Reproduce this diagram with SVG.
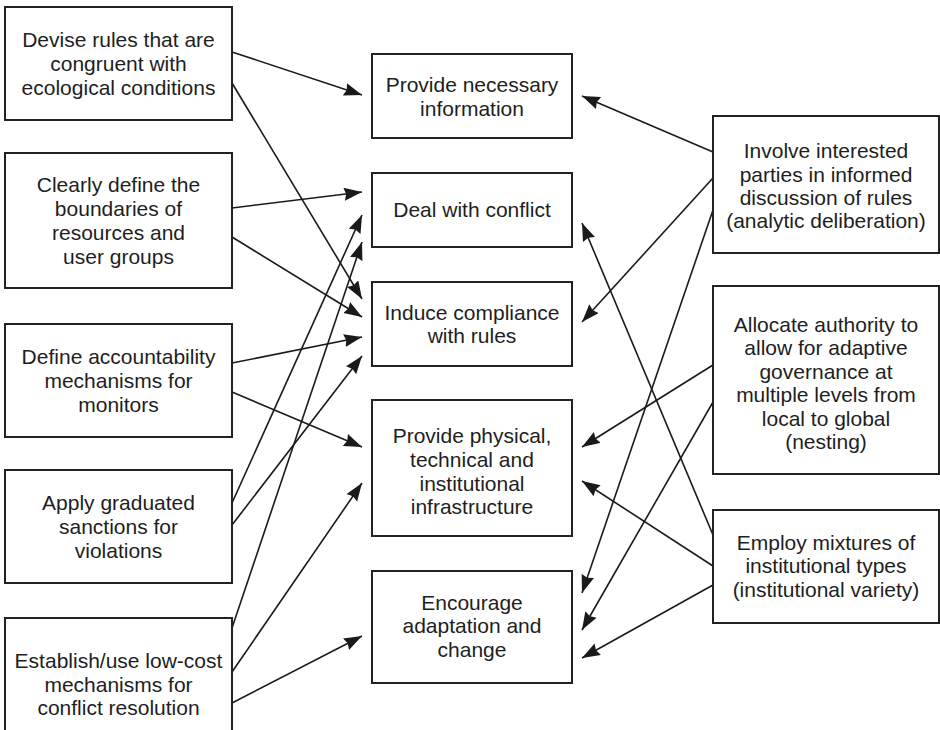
<svg xmlns="http://www.w3.org/2000/svg" width="940" height="730" viewBox="0 0 940 730">
<defs>
<marker id="ah" markerUnits="userSpaceOnUse" markerWidth="19" markerHeight="14" refX="18" refY="6.5" orient="auto">
<path d="M0,0 L18,6.5 L0,13 L2,6.5 Z" fill="#1a1a1a"/>
</marker>
<style>
.box{fill:#fff;stroke:#222;stroke-width:2}
.t{font-family:"Liberation Sans",Arial,sans-serif;font-size:21px;fill:#1e1e1e;text-anchor:middle}
.c{stroke:#1a1a1a;stroke-width:1.6;fill:none;marker-end:url(#ah)}
</style>
</defs>
<rect width="940" height="730" fill="#fff"/>
<g id="connectors">
<line class="c" x1="232" y1="52" x2="362" y2="95"/>
<line class="c" x1="232" y1="83" x2="362" y2="299"/>
<line class="c" x1="232" y1="208" x2="362" y2="192"/>
<line class="c" x1="232" y1="237" x2="362" y2="317"/>
<line class="c" x1="232" y1="363" x2="362" y2="337"/>
<line class="c" x1="232" y1="392" x2="362" y2="447"/>
<line class="c" x1="232" y1="503" x2="362" y2="215"/>
<line class="c" x1="232" y1="525" x2="362" y2="356"/>
<line class="c" x1="232" y1="628" x2="362" y2="242"/>
<line class="c" x1="232" y1="672" x2="362" y2="483"/>
<line class="c" x1="232" y1="703" x2="362" y2="636"/>
<line class="c" x1="713" y1="152" x2="582" y2="96"/>
<line class="c" x1="713" y1="178" x2="582" y2="322"/>
<line class="c" x1="713" y1="210" x2="582" y2="593"/>
<line class="c" x1="713" y1="365" x2="582" y2="447"/>
<line class="c" x1="713" y1="402" x2="582" y2="630"/>
<line class="c" x1="713" y1="535" x2="582" y2="223"/>
<line class="c" x1="713" y1="566" x2="582" y2="481"/>
<line class="c" x1="713" y1="585" x2="582" y2="658"/>
</g>
<g id="l1"><rect class="box" x="5" y="7" width="227" height="113"/>
<text class="t" x="118.5" y="47">Devise rules that are</text><text class="t" x="118.5" y="71">congruent with</text><text class="t" x="118.5" y="95">ecological conditions</text></g>
<g id="l2"><rect class="box" x="5" y="153" width="227" height="135"/>
<text class="t" x="118.5" y="192">Clearly define the</text><text class="t" x="118.5" y="216">boundaries of</text><text class="t" x="118.5" y="240">resources and</text><text class="t" x="118.5" y="264">user groups</text></g>
<g id="l3"><rect class="box" x="5" y="324" width="227" height="113"/>
<text class="t" x="118.5" y="364">Define accountability</text><text class="t" x="118.5" y="388">mechanisms for</text><text class="t" x="118.5" y="412">monitors</text></g>
<g id="l4"><rect class="box" x="5" y="470" width="227" height="113"/>
<text class="t" x="118.5" y="510">Apply graduated</text><text class="t" x="118.5" y="534">sanctions for</text><text class="t" x="118.5" y="558">violations</text></g>
<g id="l5"><rect class="box" x="5" y="618" width="227" height="134"/>
<text class="t" x="118.5" y="668">Establish/use low-cost</text><text class="t" x="118.5" y="692">mechanisms for</text><text class="t" x="118.5" y="715">conflict resolution</text></g>
<g id="m1"><rect class="box" x="372" y="54" width="200" height="84"/>
<text class="t" x="472" y="92">Provide necessary</text><text class="t" x="472" y="116">information</text></g>
<g id="m2"><rect class="box" x="372" y="173" width="200" height="74"/>
<text class="t" x="472" y="217">Deal with conflict</text></g>
<g id="m3"><rect class="box" x="372" y="282" width="200" height="84"/>
<text class="t" x="472" y="320">Induce compliance</text><text class="t" x="472" y="343">with rules</text></g>
<g id="m4"><rect class="box" x="372" y="400" width="200" height="136"/>
<text class="t" x="472" y="443">Provide physical,</text><text class="t" x="472" y="467">technical and</text><text class="t" x="472" y="491">institutional</text><text class="t" x="472" y="514">infrastructure</text></g>
<g id="m5"><rect class="box" x="372" y="571" width="200" height="112"/>
<text class="t" x="472" y="610">Encourage</text><text class="t" x="472" y="633">adaptation and</text><text class="t" x="472" y="657">change</text></g>
<g id="r1"><rect class="box" x="713" y="116" width="226" height="137"/>
<text class="t" x="826" y="158">Involve interested</text><text class="t" x="826" y="182">parties in informed</text><text class="t" x="826" y="205">discussion of rules</text><text class="t" x="826" y="228">(analytic deliberation)</text></g>
<g id="r2"><rect class="box" x="713" y="286" width="226" height="188"/>
<text class="t" x="826" y="332">Allocate authority to</text><text class="t" x="826" y="355">allow for adaptive</text><text class="t" x="826" y="379">governance at</text><text class="t" x="826" y="402">multiple levels from</text><text class="t" x="826" y="426">local to global</text><text class="t" x="826" y="449">(nesting)</text></g>
<g id="r3"><rect class="box" x="713" y="510" width="226" height="113"/>
<text class="t" x="826" y="550">Employ mixtures of</text><text class="t" x="826" y="573">institutional types</text><text class="t" x="826" y="597">(institutional variety)</text></g>
</svg>
